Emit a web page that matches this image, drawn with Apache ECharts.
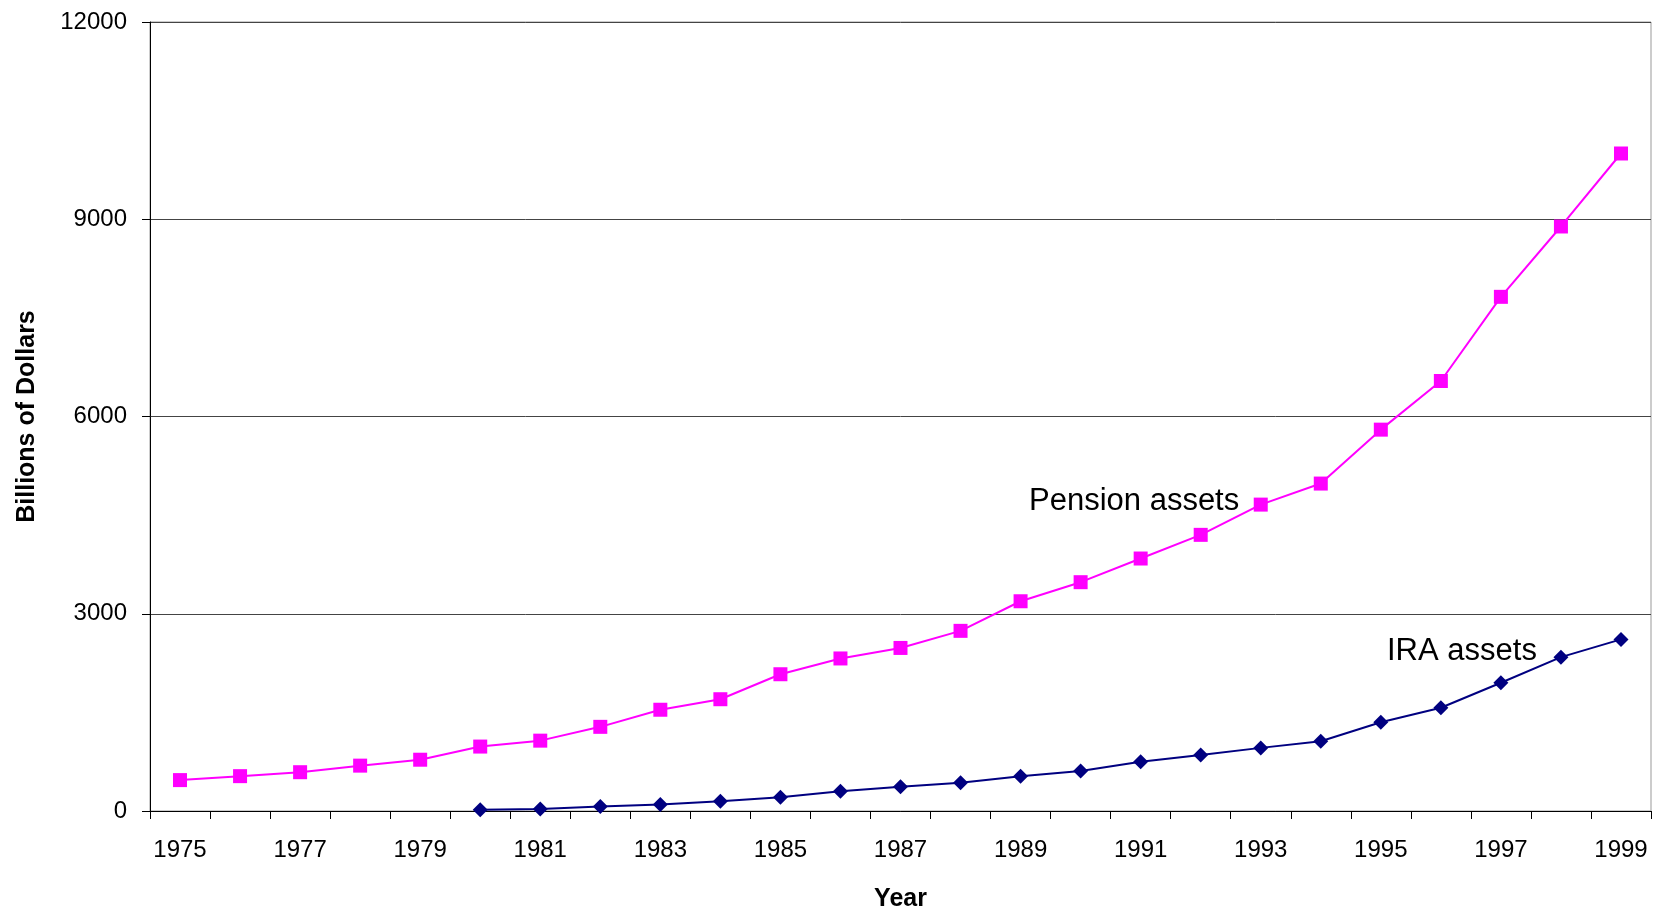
<!DOCTYPE html>
<html>
<head>
<meta charset="utf-8">
<script src="https://cdn.jsdelivr.net/npm/echarts@6/dist/echarts.min.js"></script>
<style>html,body{margin:0;padding:0;background:#fff;}#c{width:1667px;height:917px;}</style>
</head>
<body>
<div id="c"></div>
<script>
const years = ['1975','1976','1977','1978','1979','1980','1981','1982','1983','1984','1985','1986','1987','1988','1989','1990','1991','1992','1993','1994','1995','1996','1997','1998','1999'];
const pension = [470,530,590,690,780,980,1070,1280,1540,1700,2080,2320,2480,2740,3190,3480,3840,4200,4660,4980,5800,6540,7820,8890,10000];
const ira = [null,null,null,null,null,20,30,70,100,150,210,300,370,430,530,610,750,850,960,1060,1350,1570,1950,2340,2610];
const yTicks = [0,3000,6000,9000,12000];

const chart = echarts.init(document.getElementById('c'));
const font = 'Liberation Sans, Arial, sans-serif';
chart.setOption({
  animation: false,
  grid: {left: 150, right: 16, top: 22, bottom: 100, show: true, borderColor: '#999', borderWidth: 1},
  xAxis: {
    type: 'category', data: years, boundaryGap: true,
    name: 'Year', nameLocation: 'middle', nameGap: 76,
    nameTextStyle: {fontFamily: font, fontSize: 25, fontWeight: 'bold', color: '#000'},
    axisLine: {lineStyle: {color: '#000', width: 1}},
    axisTick: {show: true, interval: 0, length: 8, lineStyle: {color: '#000'}},
    axisLabel: {interval: 1, fontFamily: font, fontSize: 24, color: '#000', margin: 27}
  },
  yAxis: {
    type: 'value', min: 0, max: 12000, interval: 3000,
    name: 'Billions of Dollars', nameLocation: 'middle', nameGap: 110, nameRotate: 90,
    nameTextStyle: {fontFamily: font, fontSize: 25, fontWeight: 'bold', color: '#000'},
    axisLine: {show: true, lineStyle: {color: '#000', width: 1}},
    axisTick: {show: true, length: 8, lineStyle: {color: '#000'}},
    axisLabel: {fontFamily: font, fontSize: 24, color: '#000', margin: 23,
      formatter: v => yTicks.includes(v) ? String(v) : ''},
    splitLine: {show: true, lineStyle: {color: '#444', width: 1}}
  },
  series: [
    {name: 'Pension assets', type: 'line', data: pension, symbol: 'rect', symbolSize: 14,
     lineStyle: {color: '#FF00FF', width: 2}, itemStyle: {color: '#FF00FF'}},
    {name: 'IRA assets', type: 'line', data: ira, symbol: 'diamond', symbolSize: 15,
     lineStyle: {color: '#000080', width: 2}, itemStyle: {color: '#000080'}}
  ],
  graphic: [
    {type: 'text', x: 1029, y: 501, style: {text: 'Pension assets', font: '31px ' + font, fill: '#000', textAlign: 'left', textVerticalAlign: 'middle'}},
    {type: 'text', x: 1387, y: 651, style: {text: 'IRA assets', font: '31px ' + font, fill: '#000', textAlign: 'left', textVerticalAlign: 'middle'}}
  ]
});
</script>
</body>
</html>
